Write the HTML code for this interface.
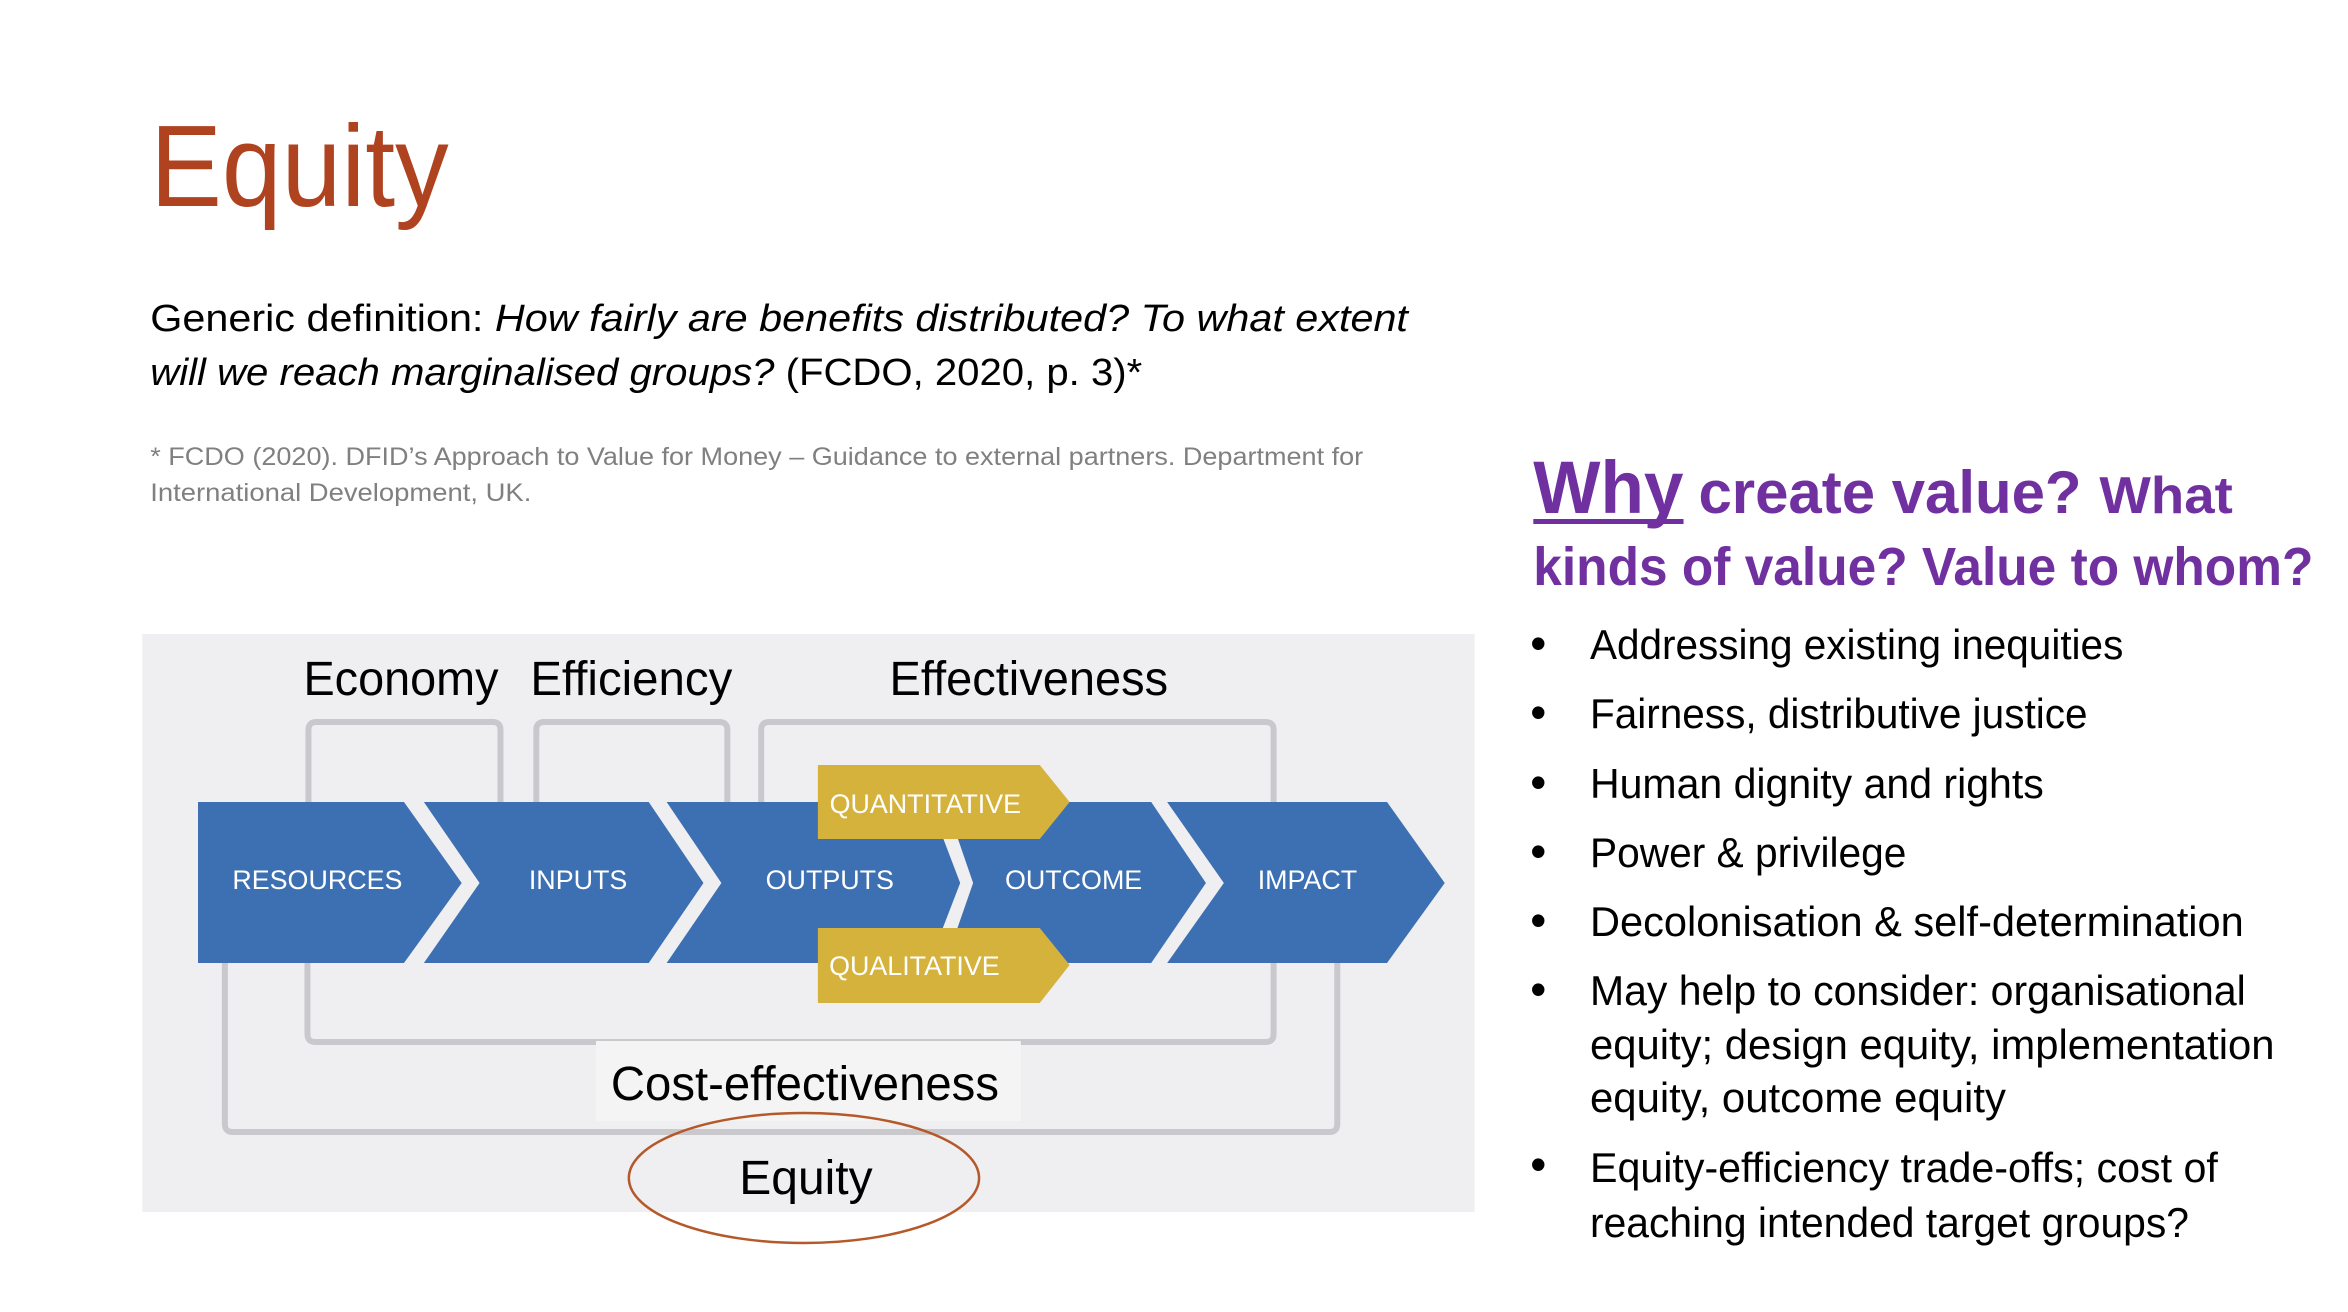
<!DOCTYPE html>
<html><head><meta charset="utf-8"><style>
html,body{margin:0;padding:0;background:#fff;}
svg{display:block;}
text{font-family:"Liberation Sans",sans-serif;}
</style></head><body>
<svg width="2348" height="1312" viewBox="0 0 2348 1312" xmlns="http://www.w3.org/2000/svg">
<rect width="2348" height="1312" fill="#fff"/>
<g transform="scale(0.995,1)">
<text x="151" y="206" font-size="116" fill="#b0431f" textLength="300" lengthAdjust="spacingAndGlyphs">Equity</text>
<text x="151" y="331" font-size="38" fill="#000" textLength="1264" lengthAdjust="spacingAndGlyphs">Generic definition: <tspan font-style="italic">How fairly are benefits distributed? To what extent</tspan></text>
<text x="151" y="385" font-size="38" fill="#000" textLength="997" lengthAdjust="spacingAndGlyphs"><tspan font-style="italic">will we reach marginalised groups?</tspan> (FCDO, 2020, p. 3)*</text>
<text x="151" y="465" font-size="25" fill="#808080" textLength="1219" lengthAdjust="spacingAndGlyphs">* FCDO (2020). DFID’s Approach to Value for Money – Guidance to external partners. Department for</text>
<text x="151" y="501" font-size="25" fill="#808080" textLength="383" lengthAdjust="spacingAndGlyphs">International Development, UK.</text>

<rect x="143" y="634" width="1339" height="578" fill="#efeff1"/>
<g fill="none" stroke="#c9c9cd" stroke-width="6" stroke-linejoin="round">
<path d="M310,850 V730 Q310,722 318,722 H495 Q503,722 503,730 V850"/>
<path d="M539,850 V730 Q539,722 547,722 H723 Q731,722 731,730 V850"/>
<path d="M765,850 V730 Q765,722 773,722 H1272 Q1280,722 1280,730 V1034 Q1280,1042 1272,1042 H317 Q309,1042 309,1034 V900"/>
<path d="M226,930 V1124 Q226,1132 234,1132 H1336 Q1344,1132 1344,1124 V930"/>
</g>
<g fill="#3d70b2">
<polygon points="199,802 406,802 464,883 406,963 199,963"/>
<polygon points="426,802 652,802 707,883 652,963 426,963 482,883"/>
<polygon points="670,802 934,802 965,883 934,963 670,963 725,883"/>
<polygon points="950,802 1157,802 1212,883 1157,963 950,963 978,883"/>
<polygon points="1173,802 1394,802 1452,883 1394,963 1173,963 1230,883"/>
</g>
<g fill="#d4b23c">
<polygon points="822,765 1045,765 1075,802 1045,839 822,839"/>
<polygon points="822,928 1045,928 1075,965 1045,1003 822,1003"/>
</g>
<g fill="#fff" font-size="27" text-anchor="middle">
<text x="319" y="889">RESOURCES</text>
<text x="581" y="889">INPUTS</text>
<text x="834" y="889">OUTPUTS</text>
<text x="1079" y="889">OUTCOME</text>
<text x="1314" y="889">IMPACT</text>
<text x="930" y="813">QUANTITATIVE</text>
<text x="919" y="975">QUALITATIVE</text>
</g>
<g font-size="48" fill="#000">
<text x="305" y="695" textLength="196" lengthAdjust="spacingAndGlyphs">Economy</text>
<text x="533" y="695" textLength="203" lengthAdjust="spacingAndGlyphs">Efficiency</text>
<text x="894" y="695" textLength="280" lengthAdjust="spacingAndGlyphs">Effectiveness</text>
</g>
<rect x="599" y="1041" width="427" height="80" fill="#f4f4f4"/>
<text x="614" y="1100" font-size="48" fill="#000" textLength="390" lengthAdjust="spacingAndGlyphs">Cost-effectiveness</text>
<ellipse cx="808" cy="1178" rx="176" ry="65" fill="none" stroke="#b5582a" stroke-width="2.5"/>
<text x="743" y="1194" font-size="48" fill="#000" textLength="134" lengthAdjust="spacingAndGlyphs">Equity</text>

<g fill="#7030a0" font-weight="bold">
<text x="1541" y="513" font-size="74" textLength="151" lengthAdjust="spacingAndGlyphs">Why</text>
<text x="1707" y="513" font-size="60" textLength="385" lengthAdjust="spacingAndGlyphs">create value?</text>
<text x="2110" y="513" font-size="52" textLength="134" lengthAdjust="spacingAndGlyphs">What</text>
<text x="1541" y="585" font-size="54" textLength="784" lengthAdjust="spacingAndGlyphs">kinds of value? Value to whom?</text>
</g>
<rect x="1541" y="519" width="151" height="5" fill="#7030a0"/>
<g font-size="42" fill="#000">
<g font-size="46"><text x="1538" y="659">•</text><text x="1538" y="728">•</text><text x="1538" y="798">•</text><text x="1538" y="867">•</text><text x="1538" y="936">•</text><text x="1538" y="1005">•</text><text x="1538" y="1180">•</text></g>
<text x="1598" y="659" textLength="536" lengthAdjust="spacingAndGlyphs">Addressing existing inequities</text>
<text x="1598" y="728" textLength="500" lengthAdjust="spacingAndGlyphs">Fairness, distributive justice</text>
<text x="1598" y="798" textLength="456" lengthAdjust="spacingAndGlyphs">Human dignity and rights</text>
<text x="1598" y="867" textLength="318" lengthAdjust="spacingAndGlyphs">Power &amp; privilege</text>
<text x="1598" y="936" textLength="657" lengthAdjust="spacingAndGlyphs">Decolonisation &amp; self-determination</text>
<text x="1598" y="1005" textLength="659" lengthAdjust="spacingAndGlyphs">May help to consider: organisational</text>
<text x="1598" y="1059" textLength="688" lengthAdjust="spacingAndGlyphs">equity; design equity, implementation</text>
<text x="1598" y="1112" textLength="418" lengthAdjust="spacingAndGlyphs">equity, outcome equity</text>
<text x="1598" y="1182" textLength="631" lengthAdjust="spacingAndGlyphs">Equity-efficiency trade-offs; cost of</text>
<text x="1598" y="1237" textLength="602" lengthAdjust="spacingAndGlyphs">reaching intended target groups?</text>
</g>
</g>
</svg>
</body></html>
